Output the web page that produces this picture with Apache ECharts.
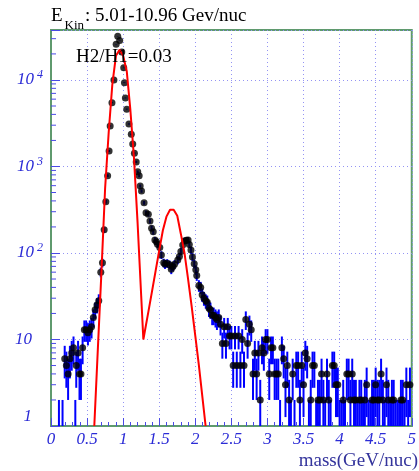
<!DOCTYPE html>
<html><head><meta charset="utf-8">
<script src="https://cdn.jsdelivr.net/npm/echarts@6/dist/echarts.min.js"></script>
<style>html,body{margin:0;padding:0;background:#fff}#c{width:419px;height:471px}</style>
</head><body><div id="c"></div>
<script>
// ---- data ----
const massX = [0.110,0.160,0.190,0.213,0.237,0.262,0.287,0.312,0.337,0.350,0.375,0.395,0.415,0.438,0.462,0.487,0.512,0.537,0.562,0.587,0.612,0.637,0.662,0.690,0.713,0.737,0.760,0.785,0.805,0.820,0.845,0.872,0.903,0.925,0.952,0.981,1.008,1.018,1.031,1.050,1.080,1.113,1.133,1.156,1.181,1.202,1.222,1.236,1.255,1.290,1.317,1.349,1.372,1.394,1.417,1.440,1.462,1.476,1.508,1.530,1.562,1.580,1.610,1.644,1.667,1.690,1.712,1.757,1.780,1.800,1.826,1.850,1.875,1.900,1.917,1.940,1.960,1.985,2.007,2.020,2.050,2.075,2.095,2.120,2.145,2.166,2.190,2.210,2.234,2.255,2.280,2.300,
2.325,2.350,2.375,2.400,2.425,2.450,2.475,2.500,2.525,2.550,2.575,2.600,2.625,2.650,2.675,2.700,2.725,2.750,2.775,2.800,2.825,2.850,2.875,2.900,2.925,2.950,2.975,3.000,3.025,3.050,3.075,3.100,3.125,3.150,3.175,3.200,3.225,3.250,3.275,3.300,3.325,3.350,3.375,3.400,3.425,3.450,3.475,3.500,3.525,3.550,3.575,3.600,3.625,3.650,3.675,3.700,3.725,3.750,3.775,3.800,3.825,3.850,3.875,3.900,3.925,3.950,3.975,4.000,4.025,4.050,4.075,4.100,4.125,4.150,4.175,4.200,4.225,4.250,4.275,4.300,4.325,4.350,4.375,4.400,4.425,4.450,4.475,4.500,4.525,4.550,4.575,4.600,4.625,4.650,4.675,4.700,4.725,4.750,4.775,4.800,4.825,4.850,4.875,4.900,4.925,4.950,4.975];
const counts = [1,1,6,5,4,6,7,8,1,5,7,4,4,8,13,13,12,13,14,18,22,25,28,60,77,185,392,783,1510,2940,5460,10000,25800,32000,28500,21000,13800,9300,6200,4600,3100,2350,1820,1420,1130,870,780,595,520,380,292,280,234,193,176,141,135,126,116,95,77,74,76,73,65,70,74,83,91,104,124,138,140,141,125,108,90,75,64,55,42,40,33,30,28,27,23,22,19,19,18,17,
18,15,9,14,9,14,11,11,5,11,5,11,5,10,5,17,9,15,13,4,7,4,7,2,8,7,10,10,4,8,8,4,4,4,1,8,6,3,5,2,1,4,1,5,5,2,5,3,7,6,1,2,5,5,1,2,2,4,2,1,4,2,1,5,5,3,3,1,1,2,1,4,4,2,4,2,2,1,2,2,1,2,3,1,1,2,2,3,2,2,4,2,1,3,2,1,2,2,1,1,1,2,2,1,3,1,3];
const fitX = [0.600,0.650,0.700,0.750,0.800,0.850,0.900,0.950,1.000,1.050,1.100,1.150,1.200,1.250,1.280,1.350,1.400,1.450,1.500,1.550,1.600,1.650,1.700,1.750,1.800,1.850,1.900,1.950,2.000,2.050,2.100,2.143];
const fitY = [1,8,63,560,2500,8900,19000,22400,19000,12600,4500,1260,224,32,10,21,36,62,107,182,263,316,316,269,166,100,50,24,11,5,2.1,1];
const xTickLabels = ['0','0.5','1','1.5','2','2.5','3','3.5','4','4.5','5'];
const yDecadeLabels = {1:'1', 10:'10', 100:'10^2', 1000:'10^3', 10000:'10^4'};
const titleMain = 'E', titleSub = 'Kin', titleRest = ': 5.01-10.96 Gev/nuc';
const ratioText = 'H2/H1=0.03';
const xAxisTitle = 'mass(GeV/nuc)';

// ---- styles ----
const SERIF = "'Liberation Serif','Times New Roman',serif";
const GREEN = '#5f9a6e';
const LBLUE = '#2b2bd6';
const TICK = '#4a4ae6';
const GRIDC = '#9494f4';

const minorVals = [];
[1,10,100,1000,10000].forEach(d => { for (let k = 2; k <= 9; k++) { if (d*k < 37800) minorVals.push(d*k); } });

const chart = echarts.init(document.getElementById('c'), null, {renderer:'canvas'});
const supRich = {
  b:{fontSize:17,fontStyle:'italic',fontFamily:SERIF,color:LBLUE,lineHeight:22},
  s:{fontSize:12,fontStyle:'italic',fontFamily:SERIF,color:LBLUE,lineHeight:12,verticalAlign:'top',padding:[0,0,0,3]},
  n:{fontSize:17,fontStyle:'italic',fontFamily:SERIF,color:LBLUE,lineHeight:22,padding:[0,11,0,0]},
  one:{fontSize:17,fontStyle:'italic',fontFamily:SERIF,color:LBLUE,lineHeight:22,padding:[0,11,19,0]}
};
chart.setOption({
  animation:false,
  backgroundColor:'#fff',
  grid:{left:51,right:1,top:30,bottom:45,show:true,borderColor:GREEN,borderWidth:2,backgroundColor:'#fff'},
  xAxis:{type:'value',min:0,max:5,interval:0.5,
    axisLine:{show:true,onZero:false,lineStyle:{color:GREEN,width:2}},
    axisTick:{show:true,inside:true,length:8,lineStyle:{color:TICK}},
    minorTick:{show:true,splitNumber:5,length:4,lineStyle:{color:TICK}},
    splitLine:{show:true,lineStyle:{type:[1,3],color:GRIDC,width:1}},
    axisLabel:{margin:5,fontSize:17,fontStyle:'italic',fontFamily:SERIF,color:LBLUE,alignMaxLabel:'center',alignMinLabel:'center',hideOverlap:false,
      formatter:v=>{const i=Math.round(v/0.5);return xTickLabels[i]!==undefined?xTickLabels[i]:'';}}
  },
  yAxis:{type:'log',logBase:10,min:1,max:37800,
    axisLine:{show:true,lineStyle:{color:GREEN,width:2}},
    axisTick:{show:true,inside:true,length:9,lineStyle:{color:TICK}},
    splitLine:{show:true,lineStyle:{type:[1,3],color:GRIDC,width:1}},
    axisLabel:{margin:8,rich:supRich,
      formatter:v=>{const key=Math.round(v);const t=yDecadeLabels[key];
        if(!t||Math.abs(v-key)>1e-6) return '';
        if(t==='1') return '{one|1}';
        if(t.indexOf('^')<0) return '{n|'+t+'}';
        const p=t.split('^');return '{b|'+p[0]+'}{s|'+p[1]+'}';}}
  },
  series:[
    {type:'custom',silent:true,clip:true,z:2,
      data:minorVals.map(v=>[0,v]),
      renderItem:(params,api)=>{const p=api.coord([0,api.value(1)]);
        return {type:'line',shape:{x1:p[0],y1:p[1],x2:p[0]+5,y2:p[1]},style:{stroke:TICK,lineWidth:1}};}
    },
    {type:'custom',silent:true,clip:true,z:3,
      data:massX.map((x,i)=>[x,counts[i]]),
      renderItem:(params,api)=>{const x=api.value(0),c=api.value(1),e=Math.sqrt(c);
        const p1=api.coord([x,Math.max(c-e,1)]),p2=api.coord([x,c+e]);
        return {type:'line',shape:{x1:p1[0],y1:p1[1],x2:p2[0],y2:p2[1]},style:{stroke:'#0000ff',lineWidth:2}};}
    },
    {type:'scatter',silent:true,z:4,symbol:'circle',symbolSize:7,itemStyle:{color:'#000'},
      data:massX.map((x,i)=>[x,counts[i]]).filter(d=>d[1]>1)},
    {type:'line',silent:true,z:5,showSymbol:false,symbol:'none',smooth:false,
      lineStyle:{color:'#ff0000',width:2},
      data:fitX.map((x,i)=>[x,fitY[i]])}
  ],
  graphic:[
    {type:'text',x:51,y:16,z:10,style:{text:titleMain,font:'19px '+SERIF,fill:'#000',verticalAlign:'middle',align:'left'}},
    {type:'text',x:64.5,y:26,z:10,style:{text:titleSub,font:'13px '+SERIF,fill:'#000',verticalAlign:'middle',align:'left'}},
    {type:'text',x:85,y:16,z:10,style:{text:titleRest,font:'19px '+SERIF,fill:'#000',verticalAlign:'middle',align:'left'}},
    {type:'text',x:76,y:57,z:10,style:{text:ratioText,font:'19px '+SERIF,fill:'#000',verticalAlign:'middle',align:'left'}},
    {type:'text',x:418,y:461,z:10,style:{text:xAxisTitle,font:'19px '+SERIF,fill:'#34349c',verticalAlign:'middle',align:'right'}}
  ]
});
</script>
</body></html>
